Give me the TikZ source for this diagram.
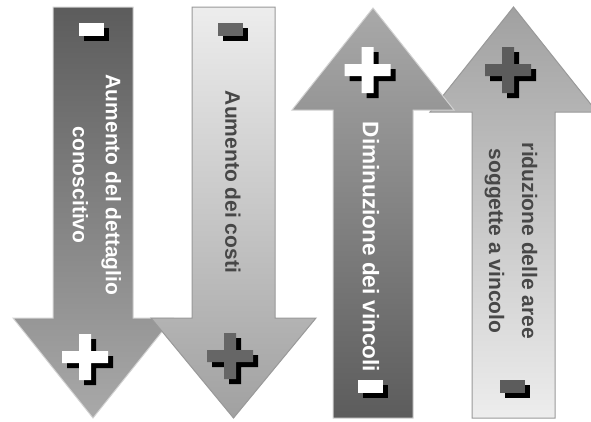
\documentclass[tikz,border=0pt]{standalone}
\usepackage{fontspec}
\setmainfont{Liberation Sans}
\definecolor{darkfill}{HTML}{5C5C5C}
\definecolor{midfill}{HTML}{A9A9A9}
\definecolor{lightfill}{HTML}{EDEDED}
\definecolor{signgray}{HTML}{666666}
\definecolor{textgray}{HTML}{474747}
\tikzset{
	every node/.style={font=\fontsize{15.75}{24.75}\selectfont\bfseries,align=center,inner sep=0pt},
	label/.style={rotate=-90},
	darkdown/.style={top color=darkfill, bottom color=midfill, draw=gray!35, line width=0.75pt},
	lightdown/.style={top color=lightfill, bottom color=midfill!95!black, draw=gray!80, line width=0.75pt},
	darkup/.style={top color=midfill, bottom color=darkfill, draw=gray!35, line width=0.75pt},
	lightup/.style={top color=midfill!95!black, bottom color=lightfill, draw=gray!80, line width=0.75pt},
	pics/minussign/.style={code={
		\fill[black] (-7.5,-2) rectangle (17.5,11);
		\fill[#1] (-12.5,-6.5) rectangle (12.5,6.5);
	}},
	pics/plussign/.style={code={
		\foreach \dx/\dy/\c in {5/5/black,0/0/#1}
			\fill[\c, shift={(\dx,\dy)}] (-6,-23) -- (6,-23) -- (6,-6) -- (23,-6) -- (23,6) -- (6,6)
				-- (6,23) -- (-6,23) -- (-6,6) -- (-23,6) -- (-23,-6) -- (-6,-6) -- cycle;
	}}
}
\begin{document}
\begin{tikzpicture}[x=0.75pt,y=-0.75pt]
	\useasboundingbox (0,0) rectangle (591,421);
	
	% down arrows
	\draw[darkdown] (53,7) -- (133,7) -- (133,318) -- (173,318) -- (93,418) -- (13,318) -- (53,318) -- cycle;
	\draw[lightdown] (192,7) -- (275,7) -- (275,318) -- (316,318) -- (233.5,418) -- (151,318) -- (192,318) -- cycle;
	
	% up arrows
	\draw[lightup] (513.5,7) -- (597,112) -- (555,112) -- (555,418) -- (472,418) -- (472,112) -- (430,112) -- cycle;
	\draw[darkup] (373,8) -- (454,110) -- (413,110) -- (413,418) -- (333,418) -- (333,110) -- (292,110) -- cycle;
	
	\pic at (91.5,29.5) {minussign=white};
	\pic at (85,357) {plussign=white};
	\pic at (230.5,29.5) {minussign=signgray};
	\pic at (230,356) {plussign=signgray};
	\pic at (367.5,70) {plussign=white};
	\pic at (370.5,386.5) {minussign=white};
	\pic at (508,70) {plussign=darkfill};
	\pic at (512.5,386.5) {minussign=darkfill};
	
	\node[label, white] (a) at (97,185) {Aumento del dettaglio\\conoscitivo};
	\node[label, textgray] (b) at (233,182) {Aumento dei costi};
	\node[label, white, font=\fontsize{16.9}{24}\selectfont\bfseries] (c) at (371,247) {Diminuzione dei vincoli};
	\node[label, textgray] (d) at (511,241) {riduzione delle aree\\soggette a vincolo};
	
\end{tikzpicture}
\end{document}
